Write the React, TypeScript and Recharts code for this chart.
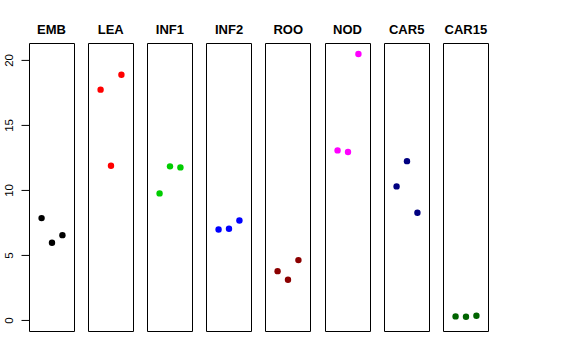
import { ScatterChart, Scatter, XAxis, YAxis, ReferenceArea } from 'recharts'

// one panel per tissue, three replicates each
const tissues = ['EMB', 'LEA', 'INF1', 'INF2', 'ROO', 'NOD', 'CAR5', 'CAR15']
const colors = ['#000000', '#ff0000', '#00cd00', '#0000ff', '#8b0000', '#ff00ff', '#000080', '#006400']

const emb = [7.87, 5.98, 6.56]
const lea = [17.75, 11.9, 18.9]
const inf1 = [9.77, 11.85, 11.77]
const inf2 = [7.0, 7.05, 7.69]
const roo = [3.79, 3.13, 4.64]
const nod = [13.08, 12.95, 20.49]
const car5 = [10.31, 12.25, 8.28]
const car15 = [0.31, 0.28, 0.36]

const values = [emb, lea, inf1, inf2, roo, nod, car5, car15]
const replicates = [1, 2, 3]
const yTicks = [0, 5, 10, 15, 20]

const X_MIN = -0.16
const X_MAX = 4.16
const Y_MIN = -0.85
const Y_MAX = 21.3

const PLOT_W = 45
const PLOT_H = 288
const PLOT_TOP = 43
const FIRST_LEFT = 29
const STEP = 59.2
const AXIS_W = 29.5

function RotatedTick(props: any) {
  const { x, y, payload } = props
  const bx = x - 6
  return (
    <text
      x={bx}
      y={y}
      transform={`rotate(-90, ${bx}, ${y})`}
      textAnchor="middle"
      fontSize={11.5}
      fontFamily="'Liberation Sans', Arial, sans-serif"
      fill="#000"
    >
      {payload.value}
    </text>
  )
}

function Panel({ index }: { index: number }) {
  const first = index === 0
  const data = replicates.map((r, i) => ({ x: r, y: values[index][i] }))
  const color = colors[index]
  const left = FIRST_LEFT + STEP * index
  const chartLeft = first ? left - AXIS_W : left - 0.5
  const width = first ? AXIS_W + PLOT_W + 0.5 : PLOT_W + 1

  return (
    <div style={{ position: 'absolute', left: chartLeft, top: PLOT_TOP - 0.5 }}>
      <ScatterChart
        width={width}
        height={PLOT_H + 1}
        margin={{ top: 0.5, right: 0.5, bottom: 0.5, left: first ? 0 : 0.5 }}
      >
        <XAxis type="number" dataKey="x" domain={[X_MIN, X_MAX]} hide allowDataOverflow />
        <YAxis
          type="number"
          dataKey="y"
          domain={[Y_MIN, Y_MAX]}
          ticks={yTicks}
          hide={!first}
          width={AXIS_W}
          axisLine={false}
          tickLine={{ stroke: '#000' }}
          tickSize={8}
          tick={<RotatedTick />}
          interval={0}
          allowDataOverflow
        />
        <ReferenceArea
          x1={X_MIN}
          x2={X_MAX}
          y1={Y_MIN}
          y2={Y_MAX}
          fill="none"
          fillOpacity={0}
          stroke="#000"
          strokeWidth={1}
          ifOverflow="visible"
        />
        <Scatter
          data={data}
          isAnimationActive={false}
          shape={(p: any) => <circle cx={p.cx} cy={p.cy} r={3.2} fill={color} />}
        />
      </ScatterChart>
    </div>
  )
}

export default function App() {
  return (
    <div
      style={{
        position: 'absolute',
        left: 0,
        top: 0,
        width: 576,
        height: 360,
        background: '#fff',
        fontFamily: "'Liberation Sans', Arial, sans-serif",
      }}
    >
      {tissues.map((t, i) => (
        <div
          key={t + '-title'}
          style={{
            position: 'absolute',
            left: FIRST_LEFT + STEP * i - 10,
            width: PLOT_W + 20,
            top: 23,
            textAlign: 'center',
            fontSize: 13,
            lineHeight: '13px',
            fontWeight: 'bold',
            color: '#000',
          }}
        >
          {t}
        </div>
      ))}
      {tissues.map((t, i) => (
        <Panel key={t} index={i} />
      ))}
    </div>
  )
}
